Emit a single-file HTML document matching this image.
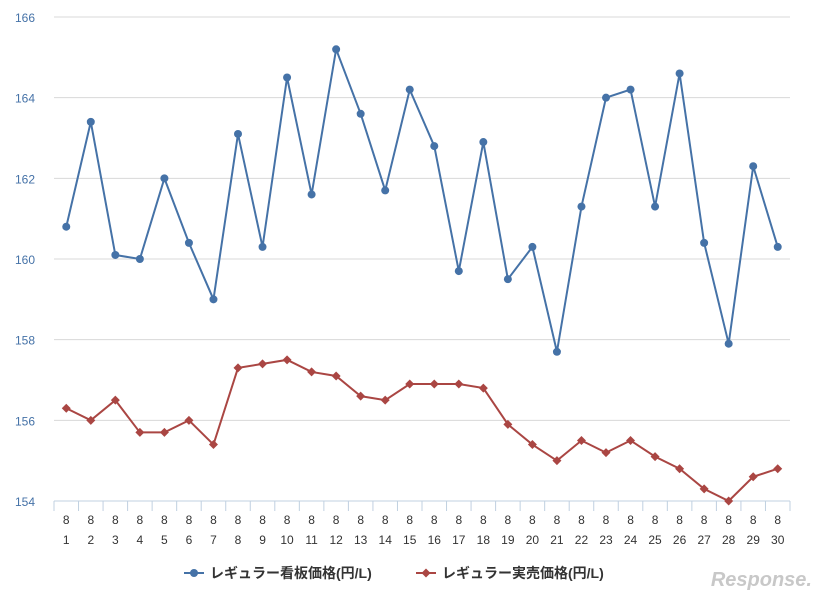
<!DOCTYPE html>
<html><head><meta charset="utf-8"><style>
body{margin:0;background:#fff;width:824px;height:600px;overflow:hidden;font-family:"Liberation Sans","Noto Sans CJK JP",sans-serif}
</style></head><body>
<svg id="c" width="824" height="600"></svg>
<script>
const categories=["1","2","3","4","5","6","7","8","9","10","11","12","13","14","15","16","17","18","19","20","21","22","23","24","25","26","27","28","29","30"];
const signPrice=[160.8,163.4,160.1,160.0,162.0,160.4,159.0,163.1,160.3,164.5,161.6,165.2,163.6,161.7,164.2,162.8,159.7,162.9,159.5,160.3,157.7,161.3,164.0,164.2,161.3,164.6,160.4,157.9,162.3,160.3];
const actualPrice=[156.3,156.0,156.5,155.7,155.7,156.0,155.4,157.3,157.4,157.5,157.2,157.1,156.6,156.5,156.9,156.9,156.9,156.8,155.9,155.4,155.0,155.5,155.2,155.5,155.1,154.8,154.3,154.0,154.6,154.8];
const yTicks=[154,156,158,160,162,164,166];
const NS="http://www.w3.org/2000/svg";
const svg=document.getElementById('c');
const X0=54,X1=790,Y0=501,Y1=17;
const bw=(X1-X0)/categories.length;
const xs=i=>X0+bw*(i+0.5);
const ys=v=>Y0-(v-154)/(166-154)*(Y0-Y1);
function mk(t,a,p){const e=document.createElementNS(NS,t);for(const k in a)e.setAttribute(k,a[k]);(p||svg).appendChild(e);return e;}
yTicks.forEach(v=>{
 const g=mk('line',{x1:X0,x2:X1,y1:ys(v),y2:ys(v),stroke:v===154?'#c0d0e0':'#d8d8d8','stroke-width':1});
 
 
 const t=mk('text',{x:35,y:ys(v)+5,'text-anchor':'end','font-size':12,fill:'#4572a7'});t.textContent=v;
 
 
});
for(let i=0;i<=categories.length;i++){const l=mk('line',{x1:X0+bw*i,x2:X0+bw*i,y1:Y0,y2:Y0+10,stroke:'#c0d0e0'});
 
 }
categories.forEach((c,i)=>{
 const t1=mk('text',{x:xs(i),y:524,'text-anchor':'middle','font-size':12,fill:'#333'});t1.textContent='8';
 
 
 const t2=mk('text',{x:xs(i),y:544,'text-anchor':'middle','font-size':12,fill:'#333'});t2.textContent=c;
 
 
});
function series(vals,color,shape,name){
 const p=mk('polyline',{points:vals.map((v,i)=>xs(i)+','+ys(v)).join(' '),fill:'none',stroke:color,'stroke-width':2});
 
 
 vals.forEach((v,i)=>{
  let m;
  if(shape==='c')m=mk('circle',{cx:xs(i),cy:ys(v),r:4,fill:color});
  else {const x=xs(i),y=ys(v);m=mk('polygon',{points:`${x},${y-4.5} ${x+4.5},${y} ${x},${y+4.5} ${x-4.5},${y}`,fill:color});}
  
  
 });
}
series(signPrice,'#4572a7','c','sign-price');
series(actualPrice,'#aa4643','d','actual-price');
// legend
const lg=mk('g',{});
mk('line',{x1:184,x2:204,y1:573,y2:573,stroke:'#4572a7','stroke-width':2},lg);
mk('circle',{cx:194,cy:573,r:4,fill:'#4572a7'},lg);
let t=mk('text',{x:210,y:578,'font-size':14,'font-weight':'bold',fill:'#333'},lg);t.textContent='レギュラー看板価格(円/L)';


mk('line',{x1:416,x2:436,y1:573,y2:573,stroke:'#aa4643','stroke-width':2},lg);
mk('polygon',{points:'426,568.5 430.5,573 426,577.5 421.5,573',fill:'#aa4643'},lg);
t=mk('text',{x:442,y:578,'font-size':14,'font-weight':'bold',fill:'#333'},lg);t.textContent='レギュラー実売価格(円/L)';


t=mk('text',{x:812,y:586,'text-anchor':'end','font-size':20,'font-style':'italic','font-weight':'bold',fill:'#c8c8c8'});t.textContent='Response.';


</script>
</body></html>
